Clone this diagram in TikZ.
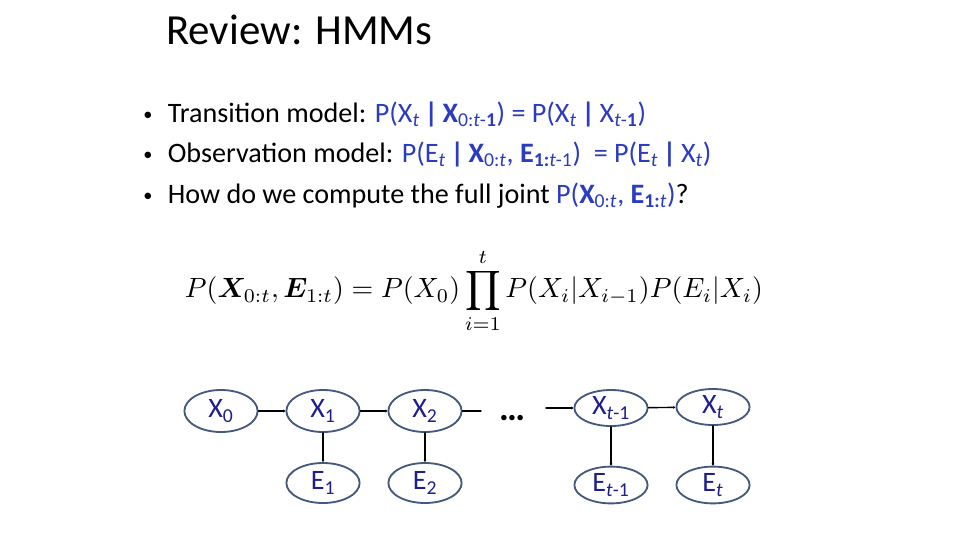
\documentclass[tikz,border=0pt]{standalone}
\usepackage{amsmath,amssymb,bm}
\usepackage{fontspec}
\setmainfont{Carlito}
\usepackage{xcolor}
\usepackage{tikz}
\usetikzlibrary{arrows.meta,positioning,shapes.geometric}
\definecolor{hmmBlue}{HTML}{2B3CC0}
\definecolor{hmmNavy}{HTML}{1E1E8C}
\definecolor{hmmRim}{HTML}{44597C}
\definecolor{hmmInk}{HTML}{000000}
\tikzset{
  hmm diagram/.style={x=0.025cm, y=-0.025cm, text=hmmInk,
    line cap=round, line join=round},
  hmm title/.style={anchor=base west, inner sep=0pt,
    font=\fontsize{30.5}{36}\selectfont},
  hmm bullet/.style={anchor=base west, inner sep=0pt,
    font=\fontsize{20}{24}\selectfont},
  hmm state/.style={ellipse, draw=hmmRim, line width=1.3pt, fill=white,
    minimum width=1.83cm, minimum height=1.05cm, inner sep=0pt,
    text=hmmNavy, font=\fontsize{20}{24}\selectfont},
  hmm evidence/.style={hmm state, minimum height=1.0cm},
  hmm edge/.style={-{Stealth[length=0.6mm, width=0.7mm]}, draw=black,
    line width=1pt},
  hmm stub/.style={draw=black, line width=1pt}
}
\newcommand{\hb}[1]{\textcolor{hmmBlue}{#1}}
\newcommand{\dotmark}{{\fontsize{13}{13}\selectfont\raisebox{0.15ex}{\textbullet}}\hspace{0.55em}}

\begin{document}
\begin{tikzpicture}[hmm diagram]
\useasboundingbox (0,0) rectangle (960,540);
\node[hmm title] (title) at (166,44) {Review: HMMs};
% bullets
\node[hmm bullet] (trans) at (143,122) {\dotmark Transition model: \hb{P(X\textsubscript{\textit{t}}\,\textbf{|}\,\textbf{X}\textsubscript{0:\textit{t}-\textbf{1}}) = P(X\textsubscript{\textit{t}}\,\textbf{|}\,X\textsubscript{\textit{t}-\textbf{1}})}};
\node[hmm bullet] (obs) at (143,162) {\dotmark Observation model: \hb{P(E\textsubscript{\textit{t}}\,\textbf{|}\,\textbf{X}\textsubscript{0:\textit{t}}, \textbf{E}\textsubscript{\textbf{1:}\textit{t}-1})\ \ = P(E\textsubscript{\textit{t}}\,\textbf{|}\,X\textsubscript{\textit{t}})}};
\node[hmm bullet] (joint) at (143,203) {\dotmark How do we compute the full joint \hb{P(\textbf{X}\textsubscript{0:\textit{t}}, \textbf{E}\textsubscript{\textbf{1:}\textit{t}})}?};
% formula
\node[inner sep=0pt, scale=1.98] (formula) at (474,291)
  {$\displaystyle P(\bm{X}_{0:t},\bm{E}_{1:t}) = P(X_0)\prod_{i=1}^{t} P(X_i|X_{i-1})P(E_i|X_i)$};
% chain
\node[hmm state] (x0) at (221,411) {X\textsubscript{0}};
\node[hmm state] (x1) at (323,411) {X\textsubscript{1}};
\node[hmm state] (x2) at (425,411) {X\textsubscript{2}};
\node[hmm state, minimum height=0.9cm] (xp) at (611,408) {X\textsubscript{\textit{t}-1}};
\node[hmm state, minimum height=0.9cm] (xt) at (713,407) {X\textsubscript{\textit{t}}};
\node[hmm evidence] (e1) at (323,483) {E\textsubscript{1}};
\node[hmm evidence] (e2) at (425,483) {E\textsubscript{2}};
\node[hmm evidence, minimum height=0.92cm] (ep) at (611,485) {E\textsubscript{\textit{t}-1}};
\node[hmm evidence, minimum height=0.92cm] (et) at (713,485) {E\textsubscript{\textit{t}}};
\node[font=\fontsize{26}{30}\selectfont\bfseries] (dots) at (512,418) {\dots};
\coordinate (stubL) at (481,411);
\coordinate (stubR) at (546,408);
\draw[hmm edge] (x0) -- (x1);
\draw[hmm edge] (x1) -- (x2);
\draw[hmm stub] (x2) -- (stubL);
\draw[hmm edge] (stubR) -- (xp);
\draw[hmm edge] (xp) -- (xt);
\foreach \s/\e in {x1/e1,x2/e2,xp/ep,xt/et}{
  \draw[hmm edge] (\s) -- (\e);
}
\end{tikzpicture}
\end{document}
